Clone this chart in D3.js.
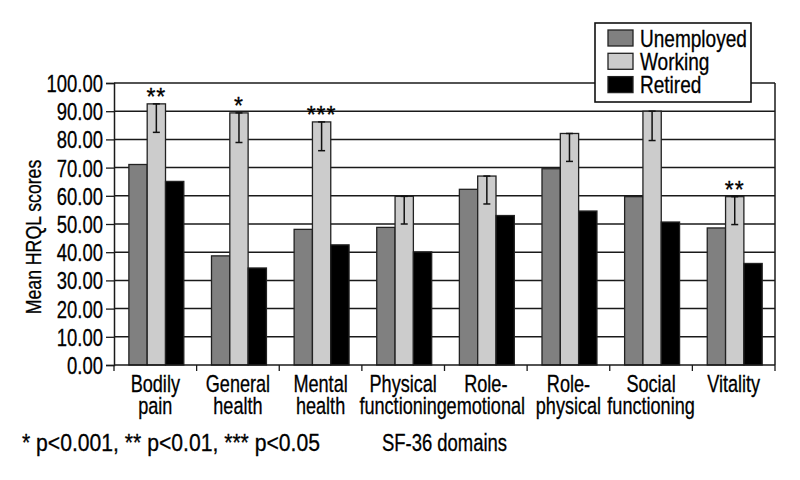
<!DOCTYPE html>
<html>
<head>
<meta charset="utf-8">
<script src="https://cdn.jsdelivr.net/npm/d3@7"></script>
<style>
  body { margin: 0; background: #fff; }
  #chart-container { width: 800px; height: 480px; }
  text { font-family: 'Liberation Sans', Arial, sans-serif; fill: #000; stroke: #000; stroke-width: 0.3px; }
</style>
</head>
<body>
<div id="chart-container"></div>
<script>
// data
let categories = ["Bodily pain", "General health", "Mental health", "Physical functioning",
                  "Role-emotional", "Role-physical", "Social functioning", "Vitality"],
    categoryLines = [["Bodily", "pain"], ["General", "health"], ["Mental", "health"], ["Physical", "functioning"],
                     ["Role-", "emotional"], ["Role-", "physical"], ["Social", "functioning"], ["Vitality"]],
    seriesNames = ["Unemployed", "Working", "Retired"],
    unemployed = [71.1, 38.7, 48.1, 48.8, 62.3, 69.6, 59.7, 48.6],
    working = [92.6, 89.4, 86.2, 59.8, 67.0, 82.1, 90.0, 59.7],
    retired = [65.1, 34.4, 42.6, 40.1, 53.0, 54.6, 50.7, 36.0],
    workingErr = [10.1, 10.5, 10.2, 9.8, 9.9, 9.9, 10.4, 9.9],
    sigMarks = ["**", "*", "***", "", "", "", "", "**"],
    yTicks = [0, 10, 20, 30, 40, 50, 60, 70, 80, 90, 100],
    footnote = "* p<0.001, ** p<0.01, *** p<0.05",
    xTitle = "SF-36 domains",
    yTitle = "Mean HRQL scores";

let colors = { Unemployed: "#808080", Working: "#cccccc", Retired: "#000000" },
    seriesValues = { Unemployed: unemployed, Working: working, Retired: retired },
    fs = 23.5,
    narrow = 0.786; // the reference uses a condensed face; squeeze Liberation Sans to match

let svg = d3.select("#chart-container").append("svg").attr("width", 800).attr("height", 480),
    margin = { top: 83, right: 25, bottom: 115, left: 114 },
    width = 800 - margin.left - margin.right,
    height = 480 - margin.top - margin.bottom,
    g = svg.append("g").attr("transform", "translate(" + margin.left + "," + margin.top + ")");

let x0 = d3.scaleBand().domain(categories).range([0, width]).padding(0),
    bw = x0.bandwidth(),
    x1 = d3.scaleBand().domain(seriesNames).range([bw * 0.18, bw * 0.18 + bw * 0.665]).padding(0),
    y = d3.scaleLinear().domain([0, 100]).range([height, 0]);

function label(parent, x, yy, str, size, anchor, sx) {
    return parent.append("text")
        .attr("transform", `translate(${x},${yy}) scale(${sx || narrow},1)`)
        .attr("text-anchor", anchor || "start")
        .attr("font-size", size)
        .text(str);
}

// gridlines
g.append("g")
    .selectAll("line")
    .data(yTicks.filter(d => d > 0))
    .join("line")
    .attr("x1", 0).attr("x2", width)
    .attr("y1", d => y(d)).attr("y2", d => y(d))
    .attr("stroke", "#1a1a1a").attr("stroke-width", 1.5);

// right frame
g.append("line")
    .attr("x1", width).attr("x2", width)
    .attr("y1", 0).attr("y2", height)
    .attr("stroke", "#1a1a1a").attr("stroke-width", 1.5);

// bars
let groups = g.append("g").selectAll("g")
    .data(categories)
    .join("g")
    .attr("transform", d => "translate(" + x0(d) + ",0)");

groups.selectAll("rect")
    .data((d, i) => seriesNames.map(s => ({ s: s, v: seriesValues[s][i] })))
    .join("rect")
    .attr("x", d => x1(d.s))
    .attr("y", d => y(d.v))
    .attr("width", x1.bandwidth())
    .attr("height", d => height - y(d.v))
    .attr("fill", d => colors[d.s])
    .attr("stroke", "#222")
    .attr("stroke-width", 1.3);

// error bars on Working
let errG = g.append("g").selectAll("g")
    .data(categories)
    .join("g")
    .attr("transform", d => "translate(" + (x0(d) + x1("Working") + x1.bandwidth() / 2) + ",0)");

errG.append("line")
    .attr("y1", (d, i) => y(working[i]))
    .attr("y2", (d, i) => y(working[i] - workingErr[i]))
    .attr("stroke", "#111").attr("stroke-width", 1.5);

errG.append("line")
    .attr("x1", -3.5).attr("x2", 3.5)
    .attr("y1", (d, i) => y(working[i] - workingErr[i]))
    .attr("y2", (d, i) => y(working[i] - workingErr[i]))
    .attr("stroke", "#111").attr("stroke-width", 1.5);

errG.append("line")
    .attr("x1", -3.5).attr("x2", 3.5)
    .attr("y1", (d, i) => y(working[i]))
    .attr("y2", (d, i) => y(working[i]))
    .attr("stroke", "#111").attr("stroke-width", 1.5);

// significance marks
errG.each(function (d, i) {
    if (sigMarks[i]) label(d3.select(this), 0, y(working[i]) + 1, sigMarks[i], 23, "middle", 1)
        .attr("letter-spacing", 1);
});

// y axis
let yAxis = g.append("g")
    .call(d3.axisLeft(y).tickValues(yTicks).tickFormat(d3.format(".2f")).tickSize(8).tickPadding(3));
yAxis.select(".domain").attr("stroke", "#1a1a1a").attr("stroke-width", 1.5);
yAxis.selectAll(".tick line").attr("stroke", "#1a1a1a").attr("stroke-width", 1.3);
yAxis.selectAll(".tick text")
    .attr("font-size", fs).attr("font-family", null).attr("fill", "#000")
    .attr("x", null).attr("dy", "0.36em")
    .attr("transform", `translate(-11,0) scale(${narrow},1)`);

// x axis
let xAxisG = g.append("g").attr("transform", "translate(0," + height + ")");
xAxisG.append("line")
    .attr("x1", 0).attr("x2", width)
    .attr("stroke", "#1a1a1a").attr("stroke-width", 1.5);
xAxisG.selectAll(".xtick")
    .data(categories.map(d => x0(d)).concat([width]))
    .join("line")
    .attr("class", "xtick")
    .attr("x1", d => d).attr("x2", d => d)
    .attr("y1", 0).attr("y2", 6)
    .attr("stroke", "#1a1a1a").attr("stroke-width", 1.3);

categories.forEach(function (d, i) {
    categoryLines[i].forEach(function (s, j) {
        label(xAxisG, x0(d) + bw / 2, 27 + j * 21.6, s, fs, "middle", 0.77);
    });
});

// axis titles
svg.append("text")
    .attr("transform", `translate(41,237) rotate(-90) scale(${narrow},1)`)
    .attr("text-anchor", "middle")
    .attr("font-size", 22.5)
    .text(yTitle);

label(svg, margin.left + width / 2, 451, xTitle, fs, "middle");
label(svg, 22, 451, footnote, fs, "start", 0.9);

// legend
let legend = svg.append("g").attr("transform", "translate(595,23)");
legend.append("rect")
    .attr("width", 156).attr("height", 79)
    .attr("fill", "#fff")
    .attr("stroke", "#111").attr("stroke-width", 1.6);

let items = legend.selectAll(".item")
    .data(seriesNames)
    .join("g")
    .attr("class", "item")
    .attr("transform", (d, i) => "translate(13," + (7 + i * 23.3) + ")");

items.append("rect")
    .attr("width", 25).attr("height", 16)
    .attr("fill", d => colors[d])
    .attr("stroke", "#222").attr("stroke-width", 1.3);

items.each(function (d) { label(d3.select(this), 32, 16.5, d, fs, "start", 0.81); });
</script>
</body>
</html>
